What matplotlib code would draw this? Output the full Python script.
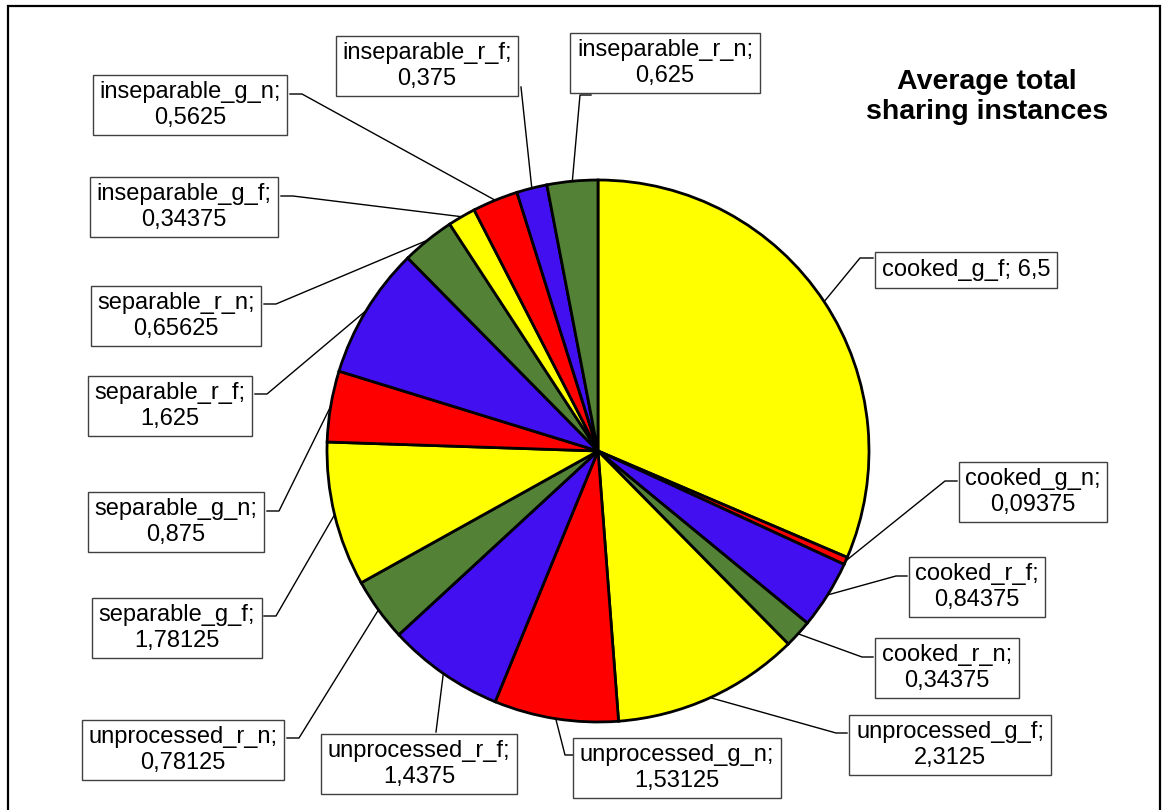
import matplotlib
matplotlib.use("Agg")
import matplotlib.pyplot as plt
import numpy as np
from matplotlib.patches import Rectangle

# ---- data ----
categories = ["cooked_g_f", "cooked_g_n", "cooked_r_f", "cooked_r_n",
              "unprocessed_g_f", "unprocessed_g_n", "unprocessed_r_f", "unprocessed_r_n",
              "separable_g_f", "separable_g_n", "separable_r_f", "separable_r_n",
              "inseparable_g_f", "inseparable_g_n", "inseparable_r_f", "inseparable_r_n"]
values = [6.5, 0.09375, 0.84375, 0.34375,
          2.3125, 1.53125, 1.4375, 0.78125,
          1.78125, 0.875, 1.625, 0.65625,
          0.34375, 0.5625, 0.375, 0.625]
value_labels = ["6,5", "0,09375", "0,84375", "0,34375",
                "2,3125", "1,53125", "1,4375", "0,78125",
                "1,78125", "0,875", "1,625", "0,65625",
                "0,34375", "0,5625", "0,375", "0,625"]
palette = ["#FFFF00", "#FF0000", "#4210F0", "#538135"]
colors = [palette[i % 4] for i in range(len(values))]
title = "Average total\nsharing instances"

# ---- layout (pixel coords, y from top) ----
W, H = 1163, 810
label_centers = [(966, 270), (1033, 492), (977, 587), (947, 668),
                 (950, 745), (677, 768), (419, 764), (183, 750),
                 (177, 628), (176, 522), (170, 406), (176, 316),
                 (184, 207), (190, 105), (427, 66), (665, 63)]
single_line = [True] + [False] * 15
# leader: box anchor then elbow (pixel coords)
leaders = [[(873, 258), (860, 258)], [(957, 481), (945, 481)],
           [(907, 576), (896, 576)], [(873, 657), (862, 657)],
           [(847, 733), (836, 733)], [(576, 755), (565, 755)],
           [(436, 732)], [(287, 738), (299, 738)],
           [(264, 616), (276, 616)], [(267, 511), (279, 511)],
           [(255, 394), (267, 394)], [(264, 304), (276, 304)],
           [(281, 196), (293, 196)], [(290, 94), (302, 94)],
           [(521, 87)], [(591, 95), (580, 95)]]

cx, cy, R = 598, 451, 271

plt.rcParams['font.family'] = ['Liberation Sans', 'DejaVu Sans']
fig = plt.figure(figsize=(W / 100, H / 100), dpi=100)
ax = fig.add_axes([0, 0, 1, 1])

def Y(py):
    return H - py

wedges, _ = ax.pie(values, colors=colors, startangle=90, counterclock=False,
                   center=(cx, Y(cy)), radius=R, frame=True,
                   wedgeprops=dict(edgecolor="black", linewidth=2.0))
ax.set_xlim(0, W)
ax.set_ylim(0, H)
ax.set_aspect("equal")
ax.axis("off")

for i, w in enumerate(wedges):
    mid = np.deg2rad((w.theta1 + w.theta2) / 2)
    px = cx + R * np.cos(mid)
    py_top = Y(Y(cy) + R * np.sin(mid))
    pts = leaders[i] + [(px, py_top)]
    xs = [p[0] for p in pts]
    ys = [Y(p[1]) for p in pts]
    ax.plot(xs, ys, color="black", lw=1.0, zorder=3)
    if single_line[i]:
        txt = f"{categories[i]}; {value_labels[i]}"
    else:
        txt = f"{categories[i]};\n{value_labels[i]}"
    lx, ly = label_centers[i]
    ax.text(lx, Y(ly), txt, ha="center", va="center", fontsize=17, linespacing=1.2,
            zorder=4,
            bbox=dict(boxstyle="square,pad=0.28", facecolor="white",
                      edgecolor="#404040", linewidth=1.0))

ax.text(987, Y(97), title, ha="center", va="center", fontsize=20.5,
        fontweight="bold", linespacing=1.2)

# outer frame
ax.add_patch(Rectangle((8, Y(814)), 1152, 808, fill=False, edgecolor="black",
                       linewidth=1.6, zorder=5, clip_on=False))

fig.savefig("out.png", dpi=100)
